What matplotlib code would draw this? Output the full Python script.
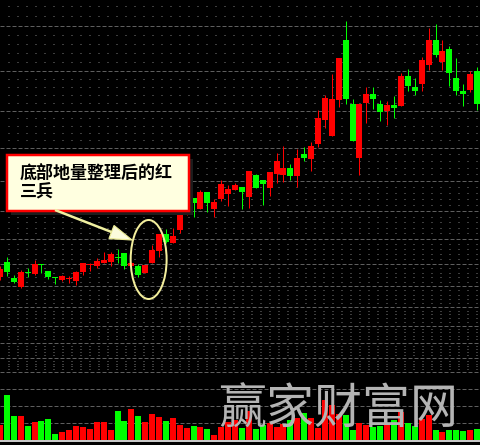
import numpy as np
import matplotlib
matplotlib.use("Agg")
import matplotlib.pyplot as plt
from matplotlib.patches import Rectangle, Ellipse, Polygon

plt.rcParams['font.family'] = ['Noto Sans CJK SC', 'DejaVu Sans']

# Daily candles (yuan)
opens = [9.35, 9.95, 9.31, 8.95, 9.55, 9.47, 9.87, 9.59, 9.35, 9.23,
         9.27, 9.19, 9.55, 9.83, 9.79, 9.91, 9.95, 10.15, 10.31, 9.79,
         9.79, 9.51, 9.91, 10.39, 11.07, 10.71, 11.23, 12.11, 12.51, 12.07,
         12.75, 12.07, 12.47, 12.67, 12.83, 12.95, 12.55, 13.43, 13.23, 12.91,
         13.47, 13.43, 13.71, 13.39, 14.27, 14.07, 14.67, 15.63, 14.99, 16.43,
         18.83, 16.27, 14.11, 16.31, 16.67, 16.27, 15.99, 16.23, 16.19, 17.39,
         16.95, 17.07, 17.83, 18.83, 17.95, 18.47, 17.31, 16.79, 16.83, 17.59]
highs = [9.79, 10.15, 9.43, 9.63, 9.71, 10.03, 9.87, 9.59, 9.35, 9.43,
         9.39, 9.59, 9.91, 9.91, 10.11, 10.35, 10.35, 10.47, 10.31, 9.95,
         9.87, 9.83, 10.63, 11.07, 11.27, 11.31, 12.03, 12.55, 12.51, 12.83,
         12.75, 12.47, 13.23, 13.03, 13.11, 12.95, 13.59, 13.47, 13.23, 13.55,
         14.31, 14.59, 13.87, 14.47, 14.55, 14.75, 16.03, 16.63, 17.47, 18.11,
         19.59, 16.47, 16.27, 16.95, 16.95, 16.43, 16.39, 16.59, 17.51, 17.67,
         17.31, 18.15, 19.31, 19.47, 18.83, 18.59, 18.11, 17.07, 17.59, 17.75]
lows = [9.23, 9.39, 9.11, 8.91, 9.35, 9.43, 9.51, 9.27, 9.07, 9.19,
        9.11, 9.03, 9.43, 9.59, 9.71, 9.91, 9.79, 9.91, 9.67, 9.75,
        9.35, 9.51, 9.91, 10.15, 10.71, 10.71, 11.11, 11.83, 11.75, 12.07,
        11.95, 11.75, 12.39, 12.19, 12.83, 12.07, 12.11, 12.91, 12.23, 12.59,
        13.11, 13.15, 13.23, 12.95, 13.99, 13.59, 14.55, 15.31, 14.99, 16.15,
        16.27, 14.79, 13.43, 15.51, 16.07, 15.59, 15.43, 15.71, 16.19, 16.79,
        16.63, 16.79, 17.63, 18.15, 17.63, 16.99, 16.63, 16.19, 16.75, 16.03]
closes = [9.67, 9.55, 9.15, 9.55, 9.51, 9.87, 9.83, 9.35, 9.31, 9.39,
          9.29, 9.55, 9.91, 9.85, 9.99, 10.03, 10.27, 10.13, 9.79, 9.91,
          9.43, 9.83, 10.43, 11.07, 10.75, 10.99, 11.99, 12.43, 12.31, 12.75,
          12.31, 12.35, 13.07, 12.87, 13.03, 12.75, 13.59, 12.91, 13.07, 13.55,
          13.99, 13.71, 13.39, 14.11, 14.11, 14.59, 15.71, 16.51, 16.47, 18.11,
          16.47, 14.79, 16.27, 16.67, 16.47, 15.95, 16.23, 16.11, 17.39, 16.99,
          16.79, 18.03, 18.83, 18.23, 18.39, 17.51, 16.79, 16.67, 17.47, 16.27]
# Daily volume (thousand lots)
volume = [15, 45, 24, 24, 14, 18, 19, 21, 6, 8,
          10, 14, 13, 11, 18, 18, 10, 29, 19, 31,
          24, 18, 26, 23, 19, 22, 15, 12, 14, 13,
          11, 5, 13, 18, 20, 12, 29, 11, 15, 17,
          13, 16, 20, 22, 27, 22, 12, 40, 35, 26,
          25, 10, 17, 15, 13, 14, 16, 20, 28, 17,
          14, 21, 25, 10, 8, 10, 10, 9, 10, 11]

note_lines = ["底部地量整理后的红", "三兵"]
watermark = "赢家财富网"
highlight = (20, 23)          # candles circled: the three red soldiers

W, H, DPI = 480, 445, 100
PX = 72.0 / DPI               # one pixel in points

UP, DOWN = '#ff0000', '#00ff00'
BG = '#000000'
GRID = '#5e5e5e'

o = np.array(opens); h = np.array(highs); l = np.array(lows); c = np.array(closes)
v = np.array(volume)
n = len(o)
idx = np.arange(n)
colors = [UP if cc >= oo else DOWN for oo, cc in zip(o, c)]

fig = plt.figure(figsize=(W / DPI, H / DPI), dpi=DPI, facecolor=BG)

# price panel: linear price scale, gridlines at 10%-step levels
p_bottom, px_per_yuan = 5.55, 25.0
price_top_px, price_bot_px = 0, 372
vol_top_px, vol_bot_px = 372, 440
ax = fig.add_axes([0, (H - price_bot_px) / H, 1, (price_bot_px - price_top_px) / H])
axv = fig.add_axes([0, (H - vol_bot_px) / H, 1, (vol_bot_px - vol_top_px) / H])
step = 480 / 69.43
xlim = (0, W / step)
for a in (ax, axv):
    a.set_facecolor(BG)
    a.set_xlim(*xlim)
    a.axis('off')
ax.set_ylim(p_bottom, p_bottom + (price_bot_px - price_top_px) / px_per_yuan)
axv.set_ylim(0, vol_bot_px - vol_top_px)

ratio = 1.101
majors = [p_bottom * ratio ** k for k in range(16)]
dot_style = dict(color='#7a7a7a', lw=PX, linestyle=(1, (1, 8)))
dash_style = dict(color=GRID, lw=PX, linestyle=(0, (4, 2)))
for k in range(len(majors) - 1):
    lo_, hi_ = majors[k], majors[k + 1]
    for f in (0.2, 0.4, 0.6, 0.8):
        ax.axhline(lo_ + f * (hi_ - lo_), zorder=1, **dot_style)
    ax.axhline(lo_, zorder=1, clip_on=False, **dash_style)
for lev in (17, 34, 51):
    axv.axhline(lev, zorder=1, **dash_style)

# candles
body_w = 6 / step
bottoms = np.minimum(o, c)
heights = np.maximum(np.abs(c - o), 1 / px_per_yuan)
ax.vlines(idx, l, h, colors=colors, lw=PX, zorder=2)
ax.bar(idx, heights, bottom=bottoms, width=body_w, color=colors, linewidth=0, zorder=3)

# volume bars
axv.bar(idx, v, width=body_w, color=colors, linewidth=0, zorder=2)

# highlight ellipse around the red three soldiers
i0, i1 = highlight
ecx = (i0 + i1) / 2
ecy = (min(l[i0:i1 + 1]) + max(h[i0:i1 + 1])) / 2 - 0.16
ax.add_patch(Ellipse((ecx, ecy), width=5.2, height=3.16, fill=False,
                     ec='#f3ee9c', lw=2 * PX, zorder=5))

# overlay in pixel coordinates for callout and watermark
ov = fig.add_axes([0, 0, 1, 1])
ov.set_xlim(0, W); ov.set_ylim(H, 0); ov.axis('off'); ov.patch.set_alpha(0)

# bottom border line
ov.add_patch(Rectangle((0, 440), W, 2, fc='#c8c8c8', ec='none', zorder=1))

# callout box with shadow
ov.add_patch(Rectangle((11, 159), 182, 56, fc='#1c1c1c', ec='none', zorder=3))
ov.add_patch(Rectangle((7, 155), 182, 56, fc='#ffffe0', ec='#ff0000', lw=2.5 * PX, zorder=4))
ov.text(20, 174, note_lines[0], fontsize=17 * PX, fontweight='bold', color='black',
        ha='left', va='center', zorder=5)
ov.text(20, 193, note_lines[1], fontsize=17 * PX, fontweight='bold', color='black',
        ha='left', va='center', zorder=5)

# arrow from callout to the circled candles
start = np.array([55.0, 210.0]); tip = np.array([132.0, 240.0])
u = (tip - start) / np.hypot(*(tip - start))
perp = np.array([-u[1], u[0]])
base = tip - 22 * u
ov.plot([start[0], base[0]], [start[1], base[1]], color='#f0f0a0', lw=2.5 * PX,
        solid_capstyle='butt', zorder=4)
ov.add_patch(Polygon([tip, base + 7 * perp, base - 7 * perp], closed=True,
                     fc='#fbfbdc', ec='#ecec96', lw=1.2 * PX, zorder=4))

# watermark
ov.text(338.5, 410, watermark, fontsize=48 * PX, color='#b4b4b4',
        ha='center', va='center', zorder=6)

fig.savefig('out.png', dpi=DPI, facecolor=BG)
